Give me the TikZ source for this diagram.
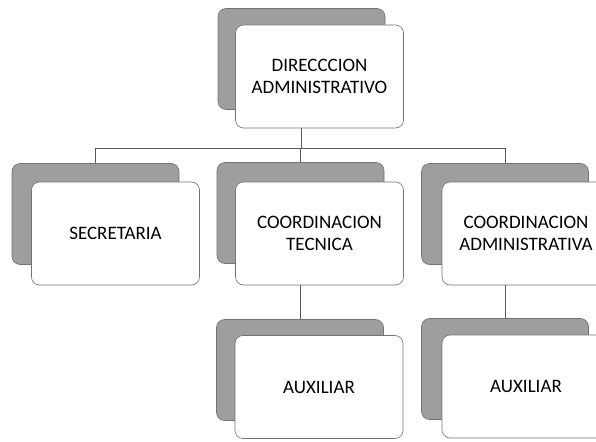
\documentclass[tikz,border=0pt]{standalone}
\usepackage{fontspec}
\setmainfont{Carlito}
\begin{document}
\begin{tikzpicture}[x=1pt,y=-1pt,
 back/.style={draw=black!55, fill=black!38, rounded corners=8pt, minimum width=167pt, minimum height=101pt, line width=0.6pt, inner sep=0pt},
 front/.style={draw=black!55, fill=white, rounded corners=8pt, minimum width=168pt, minimum height=103pt, line width=0.6pt, align=center, font=\fontsize{19}{22}\selectfont, text=black, inner sep=0pt},
 link/.style={draw=black!65, line width=0.7pt}]
\useasboundingbox (0,0) rectangle (596,441);
% top
\node[back] (topb) at (301.5,59) {};
\node[front] (topf) at (319.5,76.5) {DIRECCCION\\ADMINISTRATIVO};
% row 2
\node[back] (secb) at (95.5,214) {};
\node[front] (secf) at (115.5,233.5) {SECRETARIA};
\node[back] (midb) at (300.5,213) {};
\node[front] (midf) at (319.5,233.5) {COORDINACION\\TECNICA};
\node[back] (rgtb) at (505,214) {};
\node[front] (rgtf) at (526,233.5) {COORDINACION\\ADMINISTRATIVA};
% row 3
\node[back] (auxmb) at (300,370) {};
\node[front] (auxmf) at (319,387) {AUXILIAR};
\node[back] (auxrb) at (505,369) {};
\node[front] (auxrf) at (526,386.5) {AUXILIAR};
% connectors
\coordinate (bus) at (0,148);
\draw[link] (topb.center |- topf.south) -- (topb.center |- bus);
\draw[link] (secb.north) -- (secb.north |- bus) -| (rgtb.north);
\draw[link] (midb.north) -- (midb.north |- bus);
\draw[link] (auxmb.north |- midf.south) -- (auxmb.north);
\draw[link] (auxrb.north |- rgtf.south) -- (auxrb.north);
\end{tikzpicture}
\end{document}
